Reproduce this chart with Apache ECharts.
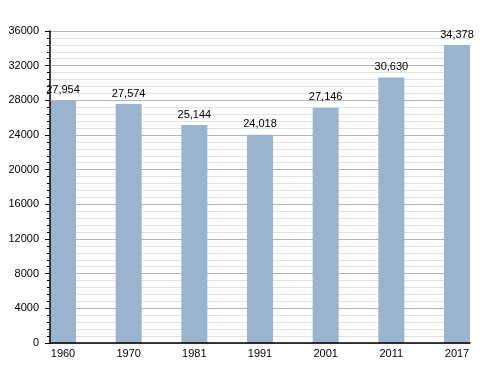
<!DOCTYPE html>
<html><head><meta charset="utf-8">
<script src="https://cdn.jsdelivr.net/npm/echarts@6/dist/echarts.min.js"></script>
<style>html,body{margin:0;padding:0;background:#fff}#c{width:500px;height:373px}</style>
</head><body><div id="c"></div>
<script>
const years = ['1960','1970','1981','1991','2001','2011','2017'];
const population = [27954, 27574, 25144, 24018, 27146, 30630, 34378];
const yMin = 0, yMax = 36000, yStep = 4000;

const chart = echarts.init(document.getElementById('c'), null, {renderer:'canvas'});
const font = 'Liberation Sans, Arial, sans-serif';
chart.setOption({
  animation: false,
  backgroundColor: '#fff',
  grid: [
    {left: 50, right: 30, top: 31, bottom: 30},
    {left: 63, right: 43, top: 31, bottom: 30}
  ],
  xAxis: [
    {gridIndex: 0, type: 'value', min: 0, max: 1, z: 10,
     axisLine: {show: true, lineStyle: {color: '#000', width: 1.5}},
     axisTick: {show: false}, axisLabel: {show: false}, splitLine: {show: false}},
    {gridIndex: 1, type: 'category', data: years, boundaryGap: false,
     axisLine: {show: false}, axisTick: {show: false},
     axisLabel: {color: '#000', fontFamily: font, fontSize: 11, margin: 5}}
  ],
  yAxis: [
    {gridIndex: 0, type: 'value', min: yMin, max: yMax, interval: yStep, z: 0,
     axisLine: {show: false},
     axisTick: {show: false},
     axisLabel: {color: '#000', fontFamily: font, fontSize: 11, margin: 11,
       formatter: v => String(v)},
     splitLine: {show: true, lineStyle: {color: '#b4b4b4', width: 1}},
     minorTick: {show: false, splitNumber: 5},
     minorSplitLine: {show: true, lineStyle: {color: '#e2e2e2', width: 1}}},
    {gridIndex: 1, type: 'value', min: yMin, max: yMax, show: false,
     splitLine: {show: false}},
    {gridIndex: 0, type: 'value', min: yMin, max: yMax, interval: yStep, z: 10, position: 'left',
     axisLine: {show: true, lineStyle: {color: '#000', width: 1.5}},
     axisTick: {show: true, inside: false, length: 5, lineStyle: {color: '#000'}},
     minorTick: {show: true, splitNumber: 5, length: 3, lineStyle: {color: '#000'}},
     axisLabel: {show: false},
     splitLine: {show: false}, minorSplitLine: {show: false}}
  ],
  series: [{
    type: 'bar', xAxisIndex: 1, yAxisIndex: 1, data: population, barWidth: 26, z: 2,
    itemStyle: {color: '#9ab3cf'},
    label: {show: true, position: 'top', distance: 5, color: '#000', fontFamily: font, fontSize: 11,
      formatter: p => p.value.toLocaleString('en-US')}
  }]
});
</script></body></html>
